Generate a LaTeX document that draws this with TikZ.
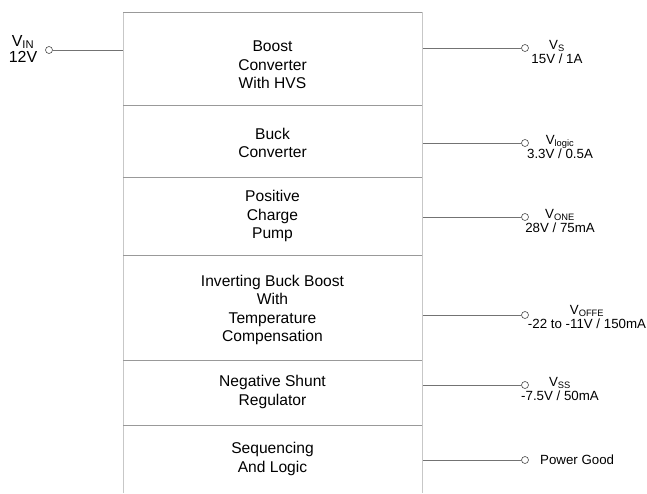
\documentclass[tikz,border=0pt]{standalone}
\usepackage{fontspec}
\setmainfont{Liberation Sans}
\begin{document}
\begin{tikzpicture}[x=1pt,y=-1pt,
  side/.style={draw=black!22,line width=1pt},
  hline/.style={draw=black!40,line width=0.8pt},
  wire/.style={draw=black!55,line width=0.7pt},
  term/.style={circle,draw=black!70,fill=white,line width=0.6pt,inner sep=0pt,minimum size=7pt},
  blk/.style={align=center,font=\fontsize{15.6}{18.6}\selectfont,inner sep=0pt},
  lbl/.style={align=center,font=\fontsize{13.3}{14.5}\selectfont,inner sep=0pt}]
\useasboundingbox (0,0) rectangle (647,493);
% box
\draw[side] (123,493) -- (123,12);
\draw[side] (422,12) -- (422,493);
\draw[hline] (123,12) -- (422,12);
\foreach \yy in {105,177,255,360,425} \draw[hline] (123,\yy) -- (422,\yy);
\coordinate (L) at (123,50);
% block texts
\node[blk] (b1) at (272.5,65) {Boost\\Converter\\With HVS};
\node[blk] (b2) at (272.5,143) {Buck\\Converter};
\node[blk] (b3) at (272.5,216) {Positive\\Charge\\Pump};
\node[blk] (b4) at (272.5,310) {Inverting Buck Boost\\With\\Temperature\\Compensation};
\node[blk] (b5) at (272.5,392) {Negative Shunt\\Regulator};
\node[blk] (b6) at (272.5,459) {Sequencing\\And Logic};
% input
\node[term] (tin) at (49,50) {};
\draw[wire] (tin) -- (L);
\node[lbl,font=\fontsize{16}{16.5}\selectfont] (vin) at (23,49) {V\textsubscript{IN}\\12V};
% outputs
\foreach \n/\yy in {1/48,2/143,3/217,4/315,5/385,6/460}{
  \coordinate (o\n) at (423,\yy);
  \node[term] (t\n) at (525,\yy) {};
  \draw[wire] (o\n) -- (t\n);
}
\node[lbl] (l1) at (557,52) {V\textsubscript{S}\\15V / 1A};
\node[lbl] (l2) at (560,147) {V\textsubscript{logic}\\3.3V / 0.5A};
\node[lbl] (l3) at (560,221) {V\textsubscript{ONE}\\28V / 75mA};
\node[lbl] (l4) at (587,317) {V\textsubscript{OFFE}\\-22 to -11V / 150mA};
\node[lbl] (l5) at (560,389) {V\textsubscript{SS}\\-7.5V / 50mA};
\node[lbl,anchor=west] (l6) at (540,460) {Power Good};
\end{tikzpicture}
\end{document}
